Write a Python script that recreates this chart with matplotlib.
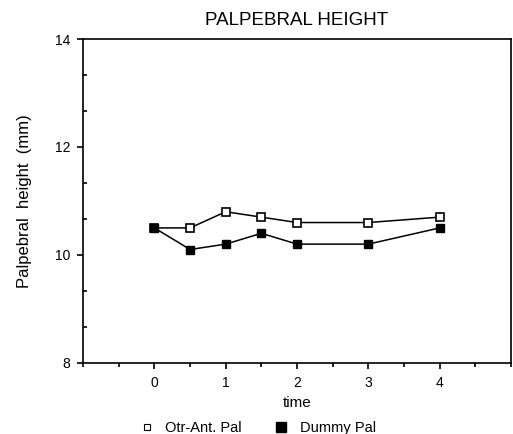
import matplotlib
matplotlib.use("Agg")
import matplotlib.pyplot as plt
from matplotlib.lines import Line2D
from matplotlib.ticker import MultipleLocator

plt.rcParams["font.family"] = ["Liberation Sans", "DejaVu Sans"]

TIME = [0, 0.5, 1, 1.5, 2, 3, 4]
OTR_ANT = [10.5, 10.5, 10.8, 10.7, 10.6, 10.6, 10.7]
DUMMY = [10.5, 10.1, 10.2, 10.4, 10.2, 10.2, 10.5]
X_TICKS = [0, 1, 2, 3, 4]
Y_TICKS = [8, 10, 12, 14]
LABELS = ["Otr-Ant. Pal", "Dummy Pal"]

fig = plt.figure(figsize=(5.13, 4.34), dpi=100)
ax = fig.add_axes([0.162, 0.164, 0.834, 0.746])

ax.plot(TIME, OTR_ANT, color="black", lw=1.1, marker="s", ms=6,
        mfc="white", mec="black", mew=1.2, zorder=3)
ax.plot(TIME, DUMMY, color="black", lw=1.1, marker="s", ms=6,
        mfc="black", mec="black", zorder=3)

ax.set_xlim(-1, 5)
ax.set_ylim(8, 14)
ax.set_xticks(X_TICKS)
ax.set_yticks(Y_TICKS)
ax.xaxis.set_minor_locator(MultipleLocator(0.5))
ax.yaxis.set_minor_locator(MultipleLocator(2 / 3))
ax.tick_params(axis="both", which="major", labelsize=10, length=4.3, width=1.2, direction="out")
ax.tick_params(axis="x", which="major", pad=5.5)
ax.tick_params(axis="y", which="major", pad=5)
ax.tick_params(axis="x", which="minor", length=3, width=1.2, direction="out")
ax.tick_params(axis="y", which="minor", length=3, width=1.2, direction="in")
for s in ax.spines.values():
    s.set_linewidth(1.2)

ax.set_xlabel("time", fontsize=11, labelpad=4)
ax.set_ylabel("Palpebral  height  (mm)", fontsize=12, labelpad=16)
ax.set_title("PALPEBRAL HEIGHT", fontsize=13.5, pad=10)

# legend: small open square, bigger filled square, no lines
handles = [
    Line2D([], [], ls="none", marker="s", ms=4, mfc="white", mec="black", mew=0.8),
    Line2D([], [], ls="none", marker="s", ms=7, mfc="black", mec="black"),
]
fig.legend(handles, LABELS, loc="center left", bbox_to_anchor=(0.26, 0.014),
           ncol=2, frameon=False, fontsize=10.5, handlelength=0.8,
           handletextpad=0.9, columnspacing=2.3, borderpad=0)

fig.savefig("out.png", dpi=100)
